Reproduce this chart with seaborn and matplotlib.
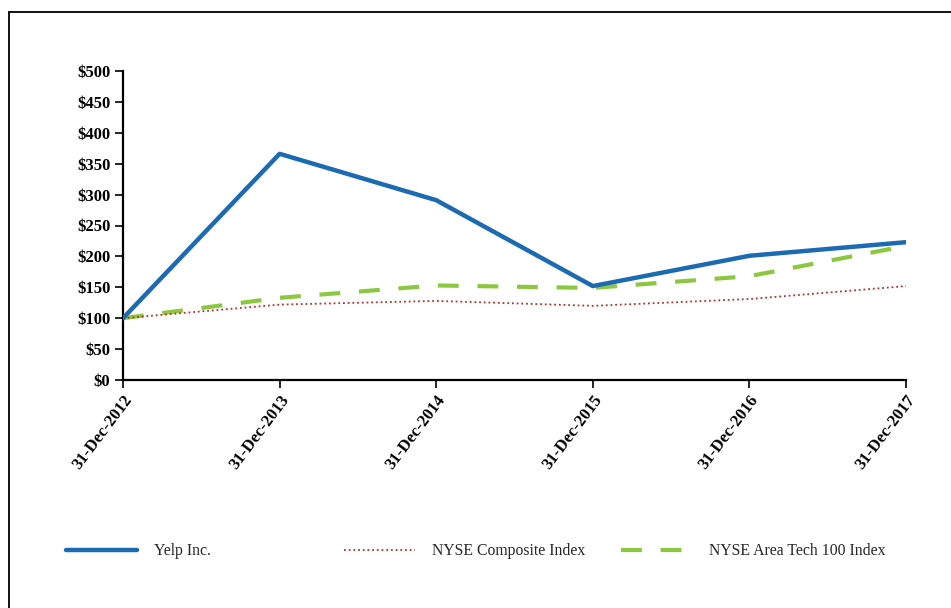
import matplotlib
matplotlib.use("Agg")
import matplotlib.pyplot as plt
from matplotlib.lines import Line2D
import seaborn as sns
import pandas as pd

dates = ["31-Dec-2012", "31-Dec-2013", "31-Dec-2014", "31-Dec-2015", "31-Dec-2016", "31-Dec-2017"]
yelp = [100, 366, 291, 152, 201, 223]
nyse_composite = [100, 122, 128, 120, 131, 152]
nyse_tech = [100, 133, 153, 149, 168, 217]
y_ticks = [0, 50, 100, 150, 200, 250, 300, 350, 400, 450, 500]
y_tick_labels = ["$" + str(v) for v in y_ticks]
series_names = ["Yelp Inc.", "NYSE Composite Index", "NYSE Area Tech 100 Index"]

sns.set_theme(style="white")
plt.rcParams["font.family"] = ["Liberation Serif", "DejaVu Serif"]

fig = plt.figure(figsize=(9.51, 6.08), dpi=100)
ax = fig.add_axes([123 / 951, 1 - 380 / 608, (906 - 123) / 951, (380 - 71) / 608])

x_pos = list(range(len(dates)))
df = pd.DataFrame({"x": x_pos * 3,
                   "value": yelp + nyse_composite + nyse_tech,
                   "series": [series_names[0]] * 6 + [series_names[1]] * 6 + [series_names[2]] * 6})

colors = ["#1c6bb2", "#b5312a", "#8cc83f"]
styles = [dict(lw=3.2, ls="-"),
          dict(lw=1.3, ls=(0, (1, 1.6))),
          dict(lw=3.0, ls=(0, (5, 4.5)))]

handles = []
order = [2, 1, 0]
for i in order:
    sub = df[df["series"] == series_names[i]]
    sns.lineplot(data=sub, x="x", y="value", ax=ax, color=colors[i],
                 linewidth=styles[i]["lw"], linestyle=styles[i]["ls"],
                 sort=False, legend=False, zorder=3 + (2 - i))

for i in range(3):
    handles.append(Line2D([0], [0], color=colors[i], lw=styles[i]["lw"], ls=styles[i]["ls"]))

ax.set_xlim(0, 5)
ax.set_ylim(0, 500)
ax.set_yticks(y_ticks)
ax.set_yticklabels(y_tick_labels, fontsize=12, fontweight="bold")
ax.set_xticks(x_pos)
ax.set_xticklabels(dates, fontsize=12, fontweight="bold", rotation=53,
                   ha="right", va="top", rotation_mode="anchor")
ax.set_xlabel("")
ax.set_ylabel("")
for s in ["top", "right"]:
    ax.spines[s].set_visible(False)
for s in ["left", "bottom"]:
    ax.spines[s].set_color("black")
    ax.spines[s].set_linewidth(1.6)
ax.tick_params(axis="both", which="both", direction="out", length=6, width=1.2,
               color="black", bottom=True, left=True, pad=3, labelcolor="black")
ax.grid(False)

legend_x = [70, 348, 625]
for i in range(3):
    fig.legend(handles=[handles[i]], labels=[series_names[i]], loc="center left",
               bbox_to_anchor=(legend_x[i] / 951 - 0.004, 1 - 551 / 608), frameon=False,
               fontsize=11.3, handlelength=4.5, handletextpad=1.1, borderpad=0,
               borderaxespad=0)

# outer frame (top and left edges visible)
fig.add_artist(Line2D([9 / 951, 1.0], [1 - 12 / 608, 1 - 12 / 608], transform=fig.transFigure,
                      color="black", lw=1.3))
fig.add_artist(Line2D([9 / 951, 9 / 951], [0.0, 1 - 12 / 608], transform=fig.transFigure,
                      color="black", lw=1.3))

fig.savefig("out.png", dpi=100)
